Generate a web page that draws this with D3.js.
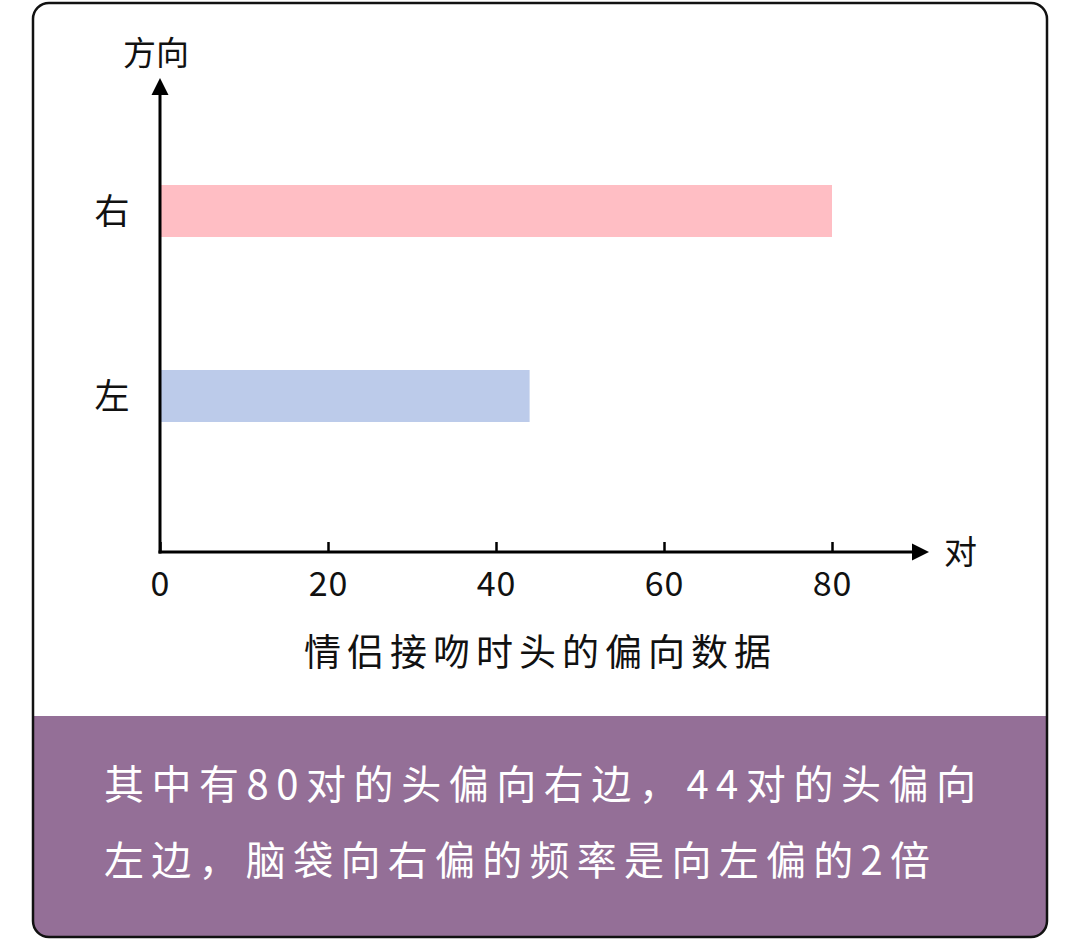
<!DOCTYPE html>
<html>
<head>
<meta charset="utf-8">
<script src="https://cdn.jsdelivr.net/npm/d3@7"></script>
<style>
  body { margin: 0; background: #ffffff; }
  text { font-family: "Noto Sans CJK SC", "Noto Sans", sans-serif; }
</style>
</head>
<body>
<svg id="chart"></svg>
<script>
const width = 1080, height = 939;

// data
const directions = ["右", "左"];
const pairs = [80, 44];
const barColors = ["#ffbec4", "#bccbea"];
const xTicks = [0, 20, 40, 60, 80];
const yTitle = "方向";
const xTitle = "对";
const chartTitle = "情侣接吻时头的偏向数据";
const noteLines = ["其中有80对的头偏向右边，44对的头偏向", "左边，脑袋向右偏的频率是向左偏的2倍"];

const svg = d3.select("#chart")
    .attr("width", width)
    .attr("height", height);

// card + purple panel
const clip = svg.append("clipPath").attr("id", "card");
clip.append("rect")
    .attr("x", 33).attr("y", 3)
    .attr("width", 1014).attr("height", 934)
    .attr("rx", 16);

svg.append("rect")
    .attr("x", 33).attr("y", 3)
    .attr("width", 1014).attr("height", 934)
    .attr("rx", 16)
    .attr("fill", "#ffffff");

svg.append("rect")
    .attr("clip-path", "url(#card)")
    .attr("x", 33).attr("y", 716)
    .attr("width", 1014).attr("height", 230)
    .attr("fill", "#946f97");

svg.append("rect")
    .attr("x", 33).attr("y", 3)
    .attr("width", 1014).attr("height", 934)
    .attr("rx", 16)
    .attr("fill", "none")
    .attr("stroke", "#111")
    .attr("stroke-width", 2.5);

// scales
const xScale = d3.scaleLinear()
    .domain([0, 80])
    .range([160, 832]);

const yScale = d3.scalePoint()
    .domain(directions)
    .range([211, 396]);

const barH = 52;
const axisY = 552;

// bars
svg.selectAll(".bar")
    .data(directions)
    .join("rect")
    .attr("class", "bar")
    .attr("x", xScale(0))
    .attr("y", d => yScale(d) - barH / 2)
    .attr("width", (d, i) => xScale(pairs[i]) - xScale(0))
    .attr("height", barH)
    .attr("fill", (d, i) => barColors[i]);

// arrow heads
const defs = svg.append("defs");
defs.append("marker")
    .attr("id", "arrow")
    .attr("viewBox", "0 0 10 10")
    .attr("refX", 0).attr("refY", 5)
    .attr("markerUnits", "userSpaceOnUse")
    .attr("markerWidth", 17).attr("markerHeight", 18)
    .attr("orient", "auto")
    .append("path")
    .attr("d", "M0,0L10,5L0,10Z")
    .attr("fill", "#000");

// x axis with ticks pointing up
const xAxis = svg.append("g")
    .attr("transform", `translate(0,${axisY})`)
    .call(d3.axisBottom(xScale).tickValues(xTicks).tickSizeInner(-10).tickSizeOuter(0).tickPadding(13));

xAxis.select(".domain").remove();
xAxis.selectAll(".tick line").attr("stroke", "#000").attr("stroke-width", 2.5);
xAxis.selectAll(".tick text")
    .attr("font-size", 34)
    .attr("fill", "#111")
    .attr("dy", "0.9em")
    .attr("letter-spacing", 1)
    .style("font-family", "'Noto Sans CJK SC', sans-serif");

// axis lines
svg.append("line")
    .attr("x1", xScale(0) - 1.5).attr("y1", axisY)
    .attr("x2", 912).attr("y2", axisY)
    .attr("stroke", "#000").attr("stroke-width", 3)
    .attr("marker-end", "url(#arrow)");

svg.append("line")
    .attr("x1", xScale(0)).attr("y1", axisY + 1.5)
    .attr("x2", xScale(0)).attr("y2", 95)
    .attr("stroke", "#000").attr("stroke-width", 3)
    .attr("marker-end", "url(#arrow)");

// category labels
svg.selectAll(".ylab")
    .data(directions)
    .join("text")
    .attr("class", "ylab")
    .attr("x", 112)
    .attr("y", d => yScale(d) + 13)
    .attr("text-anchor", "middle")
    .attr("font-size", 35)
    .attr("fill", "#111")
    .text(d => d);

// axis titles
svg.append("text")
    .attr("x", 156).attr("y", 65)
    .attr("text-anchor", "middle")
    .attr("font-size", 33)
    .attr("fill", "#111")
    .text(yTitle);

svg.append("text")
    .attr("x", 944).attr("y", 564)
    .attr("font-size", 33)
    .attr("fill", "#111")
    .text(xTitle);

// chart title
svg.append("text")
    .attr("x", 304).attr("y", 666)
    .attr("font-size", 37)
    .attr("fill", "#111")
    .attr("textLength", 467)
    .attr("lengthAdjust", "spacing")
    .text(chartTitle);

// note text in purple panel
const noteLen = [872, 826];
svg.selectAll(".note")
    .data(noteLines)
    .join("text")
    .attr("class", "note")
    .attr("x", 104)
    .attr("y", (d, i) => 799 + i * 76)
    .attr("font-size", 40)
    .attr("fill", "#ffffff")
    .attr("textLength", (d, i) => noteLen[i])
    .attr("lengthAdjust", "spacing")
    .text(d => d);
</script>
</body>
</html>
